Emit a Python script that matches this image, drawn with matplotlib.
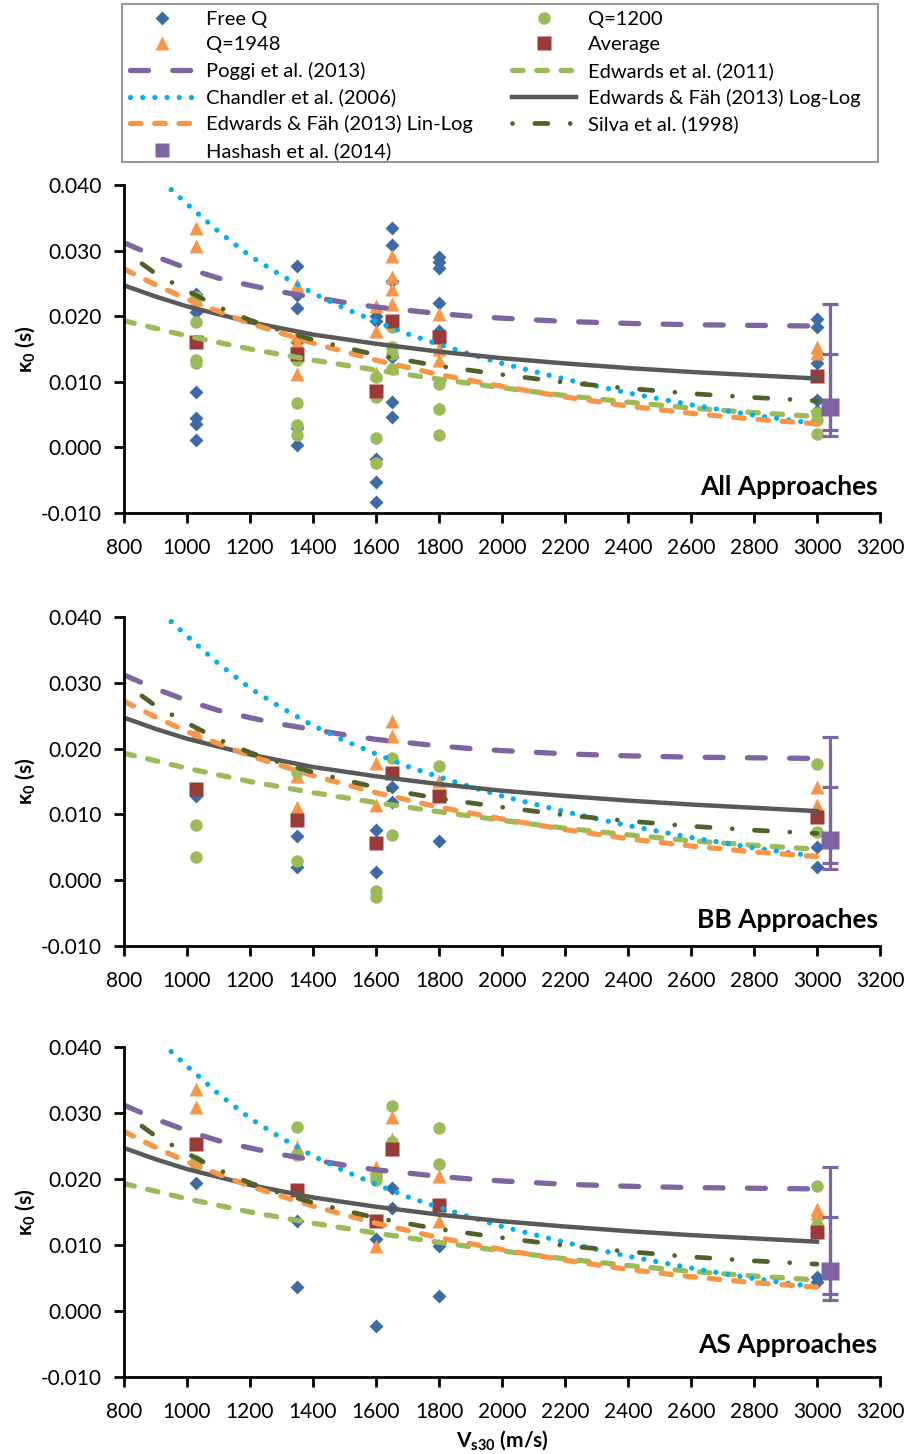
import matplotlib
matplotlib.use("Agg")
import matplotlib.pyplot as plt
from matplotlib.lines import Line2D
from matplotlib.patches import Rectangle

plt.rcParams['font.family'] = ['Lato', 'DejaVu Sans']
plt.rcParams['mathtext.fontset'] = 'custom'
plt.rcParams['mathtext.rm'] = 'Lato:bold'
plt.rcParams['mathtext.it'] = 'Lato:bold'
plt.rcParams['mathtext.bf'] = 'Lato:bold'

# ---- kappa0 estimates per site (Vs30 -> values), one dict per panel/series
all_freeq = {1030: [0.0234, 0.0206, 0.0084, 0.0045, 0.0035, 0.0011],
             1350: [0.0277, 0.0233, 0.0213, 0.0160, 0.0029, 0.0004],
             1600: [0.0201, 0.0193, -0.0017, -0.0052, -0.0083],
             1650: [0.0334, 0.0308, 0.0254, 0.0138, 0.0069, 0.0047],
             1800: [0.0291, 0.0282, 0.0273, 0.0220, 0.0178],
             3000: [0.0196, 0.0184, 0.0129, 0.0073, 0.0055]}
all_q1948 = {1030: [0.0335, 0.0307, 0.0226],
             1350: [0.0247, 0.0171, 0.0160, 0.0112],
             1600: [0.0216, 0.0178, 0.0113],
             1650: [0.0292, 0.0259, 0.0241, 0.0219],
             1800: [0.0204, 0.0150, 0.0133],
             3000: [0.0153, 0.0144]}
all_q1200 = {1030: [0.0229, 0.0191, 0.0133, 0.0128],
             1350: [0.0133, 0.0068, 0.0034, 0.0019],
             1600: [0.0107, 0.0077, 0.0014, -0.0024],
             1650: [0.0183, 0.0153, 0.0143, 0.0120],
             1800: [0.0096, 0.0059, 0.0019],
             3000: [0.0053, 0.0042, 0.0021]}
all_avg = {1030: [0.0160], 1350: [0.0143], 1600: [0.0086],
           1650: [0.0192], 1800: [0.0169], 3000: [0.0109]}

bb_freeq = {1030: [0.0128], 1350: [0.0067, 0.0020], 1600: [0.0076, 0.0013],
            1650: [0.0141, 0.0119], 1800: [0.0059], 3000: [0.0050, 0.0020]}
bb_q1948 = {1030: [0.0224], 1350: [0.0159, 0.0112], 1600: [0.0178, 0.0114],
            1650: [0.0242, 0.0219], 1800: [0.0151], 3000: [0.0141, 0.0114]}
bb_q1200 = {1030: [0.0084, 0.0036], 1350: [0.0164, 0.0029], 1600: [-0.0017, -0.0025],
            1650: [0.0186, 0.0069], 1800: [0.0174], 3000: [0.0177, 0.0074]}
bb_avg = {1030: [0.0138], 1350: [0.0092], 1600: [0.0057],
          1650: [0.0163], 1800: [0.0128], 3000: [0.0096]}

as_freeq = {1030: [0.0194], 1350: [0.0136, 0.0037], 1600: [0.0109, -0.0022],
            1650: [0.0186, 0.0156], 1800: [0.0098, 0.0022], 3000: [0.0052, 0.0044]}
as_q1948 = {1030: [0.0337, 0.0309], 1350: [0.0248], 1600: [0.0218, 0.0099],
            1650: [0.0294, 0.0261], 1800: [0.0204, 0.0136], 3000: [0.0155, 0.0148]}
as_q1200 = {1030: [0.0227, 0.0221], 1350: [0.0279, 0.0236], 1600: [0.0205, 0.0198],
            1650: [0.0310, 0.0256], 1800: [0.0277, 0.0223], 3000: [0.0189, 0.0130]}
as_avg = {1030: [0.0253], 1350: [0.0184], 1600: [0.0136],
          1650: [0.0245], 1800: [0.0160], 3000: [0.0120]}

# ---- published kappa0-Vs30 models
poggi_vs = [800, 900, 1000, 1100, 1200, 1300, 1400, 1500, 1600, 1700, 1800, 1900, 2000, 2200, 2400, 2600, 2800, 3000]
poggi_k = [0.0312, 0.0291, 0.0273, 0.0258, 0.0247, 0.0237, 0.0229, 0.0221, 0.0214, 0.0209, 0.0204, 0.0200, 0.0197, 0.0192, 0.0189, 0.0187, 0.0186, 0.0185]

edw11_vs = [800, 1000, 1200, 1400, 1600, 1800, 2000, 2200, 2400, 2600, 2800, 3000]
edw11_k = [0.0193, 0.0170, 0.0150, 0.0133, 0.0118, 0.0104, 0.0091, 0.0079, 0.0069, 0.0060, 0.0053, 0.0047]

chandler_vs = [950, 1000, 1100, 1200, 1300, 1400, 1500, 1600, 1700, 1800, 1900, 2000, 2200, 2400, 2600, 2800, 3000]
chandler_k = [0.0393, 0.0371, 0.0329, 0.0292, 0.0262, 0.0235, 0.0212, 0.0192, 0.0173, 0.0157, 0.0142, 0.0128, 0.0104, 0.0083, 0.0065, 0.0049, 0.0036]

loglog_vs = [800, 900, 1000, 1200, 1400, 1600, 1800, 2000, 2200, 2400, 2600, 2800, 3000]
loglog_k = [0.0247, 0.0230, 0.0215, 0.0191, 0.0172, 0.0158, 0.0146, 0.0136, 0.0128, 0.0121, 0.0115, 0.0110, 0.0105]

linlog_vs = [800, 900, 1000, 1200, 1400, 1600, 1800, 2000, 2200, 2400, 2600, 2800, 3000]
linlog_k = [0.0272, 0.0248, 0.0226, 0.0189, 0.0159, 0.0133, 0.0111, 0.0093, 0.0077, 0.0063, 0.0052, 0.0043, 0.0036]

silva_vs = [800, 900, 1000, 1100, 1200, 1300, 1400, 1600, 1800, 2000, 2200, 2400, 2600, 2800, 3000]
silva_k = [0.0300, 0.0265, 0.0239, 0.0214, 0.0194, 0.0178, 0.0164, 0.0141, 0.0124, 0.0111, 0.0099, 0.0090, 0.0082, 0.0076, 0.0071]

# Hashash et al. (2014): mean with two ranges
hashash_vs = 3040
hashash_k = 0.0061
hashash_lo = [0.0026, 0.0017]
hashash_hi = [0.0142, 0.0218]

xticks = list(range(800, 3201, 200))
yticks = [-0.010, 0.000, 0.010, 0.020, 0.030, 0.040]
panel_titles = ['All Approaches', 'BB Approaches', 'AS Approaches']

c_blue = '#3C6BA6'
c_orange = '#F79646'
c_green = '#9BBB59'
c_avg = '#9B3B38'
c_purple = '#8064A2'
c_cyan = '#00B0F0'
c_gray = '#595959'
c_olive = '#4F6228'


def flat(d):
    xs = [v for v in d for _ in d[v]]
    ys = [k for v in d for k in d[v]]
    return xs, ys


def draw_panel(ax, freeq, q1948, q1200, avg, title, ty):
    h = {}
    x, y = flat(freeq)
    h['free'], = ax.plot(x, y, ls='none', marker='D', ms=7.6, color=c_blue, mec='none')
    x, y = flat(q1948)
    h['q1948'], = ax.plot(x, y, ls='none', marker='^', ms=10, color=c_orange, mec='none')
    x, y = flat(q1200)
    h['q1200'], = ax.plot(x, y, ls='none', marker='o', ms=9, color=c_green, mec='none')
    x, y = flat(avg)
    h['avg'], = ax.plot(x, y, ls='none', marker='s', ms=10.5, color=c_avg, mec='none')

    h['poggi'], = ax.plot(poggi_vs, poggi_k, color=c_purple, lw=3.8, ls=(0, (3.4, 4.6)), dash_capstyle='round')
    h['edw11'], = ax.plot(edw11_vs, edw11_k, color=c_green, lw=3.8, ls=(0, (2.0, 2.6)), dash_capstyle='round')
    h['chandler'], = ax.plot(chandler_vs, chandler_k, color=c_cyan, lw=3.8, ls=(0, (0.01, 2.3)), dash_capstyle='round')
    h['loglog'], = ax.plot(loglog_vs, loglog_k, color=c_gray, lw=3.2)
    h['linlog'], = ax.plot(linlog_vs, linlog_k, color=c_orange, lw=3.8, ls=(0, (2.0, 2.6)), dash_capstyle='round')
    h['silva'], = ax.plot(silva_vs, silva_k, color=c_olive, lw=3.4, ls=(7.5, (2.8, 4.7, 0.01, 4.7)), dash_capstyle='round')

    for lo, hi in zip(hashash_lo, hashash_hi):
        ax.errorbar([hashash_vs], [hashash_k], yerr=[[hashash_k - lo], [hi - hashash_k]],
                    fmt='none', ecolor=c_purple, elinewidth=2.3, capsize=5.5, capthick=2.3)
    ax.plot([hashash_vs], [hashash_k], ls='none', marker='s', ms=13, color=c_purple, mec='none')

    ax.set_xlim(800, 3200)
    ax.set_ylim(-0.010, 0.040)
    ax.set_xticks(xticks)
    ax.set_yticks(yticks)
    ax.set_yticklabels(['%.3f' % t for t in yticks])
    for s in ['top', 'right']:
        ax.spines[s].set_visible(False)
    for s in ['left', 'bottom']:
        ax.spines[s].set_linewidth(2)
    ax.tick_params(direction='out', length=7, width=2, labelsize=15)
    ax.tick_params(axis='x', pad=11)
    ax.tick_params(axis='y', pad=9)
    ax.text(0.997, ty, title, transform=ax.transAxes, ha='right', va='baseline',
            fontsize=19, fontweight='bold')
    return h


fig = plt.figure(figsize=(9.09, 14.54), dpi=100)
H = 1454.0
W = 909.0
ax_left = 124 / W
ax_w = (880 - 124) / W
panel_px = [(185, 513, 0.055), (617, 946, 0.055), (1047, 1377, 0.072)]
series = [(all_freeq, all_q1948, all_q1200, all_avg),
          (bb_freeq, bb_q1948, bb_q1200, bb_avg),
          (as_freeq, as_q1948, as_q1200, as_avg)]

handles = None
for (top, bot, ty), s, title in zip(panel_px, series, panel_titles):
    ax = fig.add_axes([ax_left, 1 - bot / H, ax_w, (bot - top) / H])
    hh = draw_panel(ax, *s, title, ty)
    if handles is None:
        handles = hh
    fig.text(25 / W, 1 - (top + bot) / 2 / H, 'κ$_0$ (s)', rotation=90,
             ha='center', va='center', fontsize=15, fontweight='bold')

fig.text(502 / W, 1 - 1440 / H, 'V$_{s30}$ (m/s)', ha='center', va='center',
         fontsize=15, fontweight='bold')

hashash_handle = Line2D([], [], ls='none', marker='s', ms=10, color=c_purple, mec='none')
col1 = [handles['free'], handles['q1948'], handles['poggi'], handles['chandler'], handles['linlog'], hashash_handle]
lab1 = ['Free Q', 'Q=1948', 'Poggi et al. (2013)', 'Chandler et al. (2006)',
        'Edwards & Fäh (2013) Lin-Log', 'Hashash et al. (2014)']
col2 = [handles['q1200'], handles['avg'], handles['edw11'], handles['loglog'], handles['silva']]
lab2 = ['Q=1200', 'Average', 'Edwards et al. (2011)', 'Edwards & Fäh (2013) Log-Log', 'Silva et al. (1998)']

leg_kw = dict(loc='upper left', frameon=False, fontsize=14.5, handlelength=3.2,
              handletextpad=0.55, labelspacing=0.43, borderpad=0, borderaxespad=0)
fig.legend(col1, lab1, bbox_to_anchor=(130 / W, 1 - 10.5 / H), **leg_kw)
fig.legend(col2, lab2, bbox_to_anchor=(512 / W, 1 - 10.5 / H), **leg_kw)
fig.add_artist(Rectangle((122 / W, 1 - 162 / H), (878 - 122) / W, (162 - 4) / H,
                         transform=fig.transFigure, fill=False, ec='#8C8C8C', lw=1.3))

fig.savefig('out.png', dpi=100)
